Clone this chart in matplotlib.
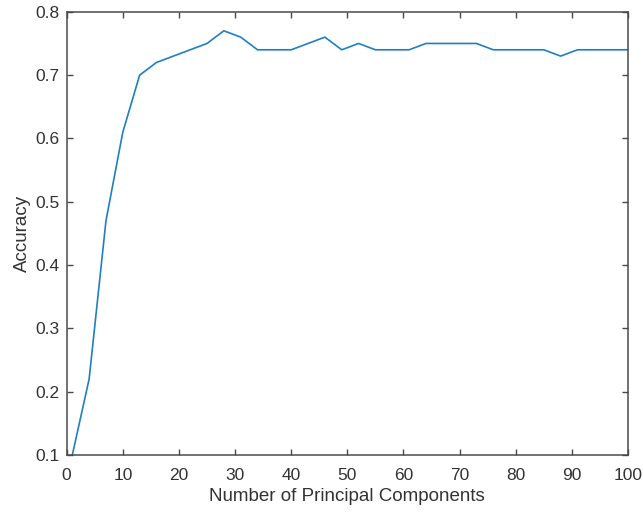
import matplotlib
matplotlib.use("Agg")
import matplotlib.pyplot as plt

plt.rcParams['font.family'] = ['Liberation Sans', 'DejaVu Sans']

components = [1, 4, 7, 10, 13, 16, 19, 22, 25, 28, 31, 34, 37, 40, 43, 46, 49, 52,
              55, 58, 61, 64, 67, 70, 73, 76, 79, 82, 85, 88, 91, 94, 97, 100]
accuracy = [0.10, 0.22, 0.47, 0.61, 0.70, 0.72, 0.73, 0.74, 0.75, 0.77, 0.76, 0.74,
            0.74, 0.74, 0.75, 0.76, 0.74, 0.75, 0.74, 0.74, 0.74, 0.75, 0.75, 0.75,
            0.75, 0.74, 0.74, 0.74, 0.74, 0.73, 0.74, 0.74, 0.74, 0.74]
xticks = [0, 10, 20, 30, 40, 50, 60, 70, 80, 90, 100]
yticks = [0.1, 0.2, 0.3, 0.4, 0.5, 0.6, 0.7, 0.8]

fig = plt.figure(figsize=(6.43, 5.13), dpi=100)
ax = fig.add_axes([0.1037, 0.113, 0.873, 0.864])
ax.plot(components, accuracy, color='#1f7fc4', lw=1.2)
ax.set_xlim(0, 100)
ax.set_ylim(0.1, 0.8)
ax.set_xticks(xticks)
ax.set_yticks(yticks)
ax.set_yticklabels([f"{v:.1f}" for v in yticks])
axcol = '#4a4a4a'
txtcol = '#333333'
for s in ax.spines.values():
    s.set_color(axcol)
    s.set_linewidth(1.1)
ax.tick_params(direction='in', top=True, right=True, length=4.5, width=1.0,
               colors=axcol, labelsize=12.5, labelcolor=txtcol)
ax.tick_params(axis='x', pad=9)
ax.tick_params(axis='y', pad=5)
ax.set_xlabel('Number of Principal Components', fontsize=13.5, color=txtcol, labelpad=4)
ax.set_ylabel('Accuracy', fontsize=13.5, color=txtcol, labelpad=3)
fig.savefig('out.png', dpi=100)
